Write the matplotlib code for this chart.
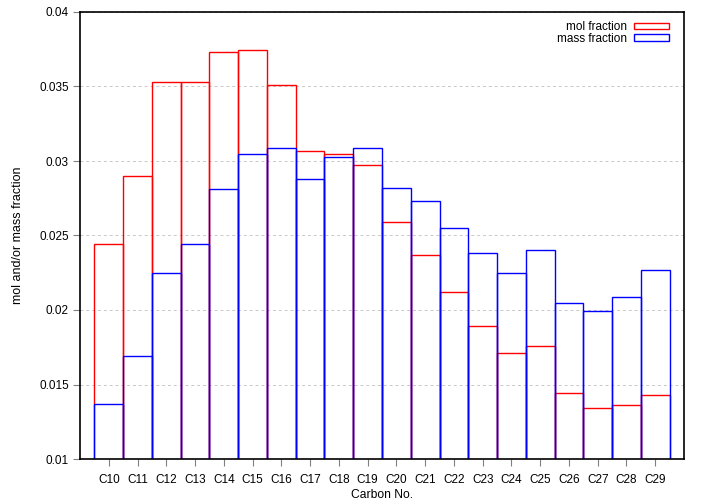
import matplotlib
matplotlib.use("Agg")
import matplotlib.pyplot as plt
import numpy as np

plt.rcParams['font.family'] = ['Liberation Sans', 'DejaVu Sans']

# carbon numbers and the two fractions
carbon_no = list(range(10, 30))
carbon_labels = ["C%d" % c for c in carbon_no]
mol_fraction = [0.0244, 0.0290, 0.0353, 0.0353, 0.0373, 0.03745, 0.0351, 0.03065, 0.0305, 0.0297,
                0.0259, 0.0237, 0.0212, 0.0189, 0.0171, 0.0176, 0.0144, 0.0134, 0.0136, 0.0143]
mass_fraction = [0.0137, 0.0169, 0.0225, 0.0244, 0.0281, 0.0305, 0.0309, 0.0288, 0.0303, 0.0309,
                 0.0282, 0.0273, 0.0255, 0.0238, 0.0225, 0.0240, 0.0205, 0.0199, 0.0209, 0.0227]
y_ticks = [0.01, 0.015, 0.02, 0.025, 0.03, 0.035, 0.04]
y_tick_labels = ["0.01", "0.015", "0.02", "0.025", "0.03", "0.035", "0.04"]

fig = plt.figure(figsize=(7.05, 5.04), dpi=100)
ax = fig.add_axes([80 / 705, 45 / 504, 604 / 705, 447 / 504])

# gnuplot style empty boxes, red drawn first, blue on top
ax.bar(carbon_no, mol_fraction, width=1.0, fill=False, edgecolor='#ff0000', linewidth=1.0, label='mol fraction')
ax.bar(carbon_no, mass_fraction, width=1.0, fill=False, edgecolor='#0000ff', linewidth=1.0, label='mass fraction')

ax.set_xlim(9, 30)
ax.set_ylim(0.01, 0.04)
ax.set_xticks(carbon_no)
ax.set_xticklabels(carbon_labels)
ax.set_yticks(y_ticks)
ax.set_yticklabels(y_tick_labels)
ax.tick_params(direction='out', length=5, width=0.8, color='#808080', labelsize=8.5, pad=3)
ax.tick_params(axis='x', pad=6)

ax.grid(axis='y', color='#c8c8c8', linestyle=(0, (3, 3)), linewidth=0.7)
ax.set_axisbelow(True)
for s in ax.spines.values():
    s.set_linewidth(1.2)
    s.set_color('black')

ax.set_xlabel("Carbon No.", fontsize=8.7, labelpad=2)
ax.set_ylabel("mol and/or mass fraction", fontsize=9, labelpad=11)

leg = ax.legend(loc='upper right', frameon=False, fontsize=8.5, markerfirst=False,
                handlelength=3.0, handleheight=0.45, labelspacing=-0.05, borderaxespad=0.25,
                borderpad=0.3, handletextpad=0.6, bbox_to_anchor=(0.986, 0.994))
for t in leg.get_texts():
    t.set_ha('right')

fig.savefig("out.png", dpi=100)
